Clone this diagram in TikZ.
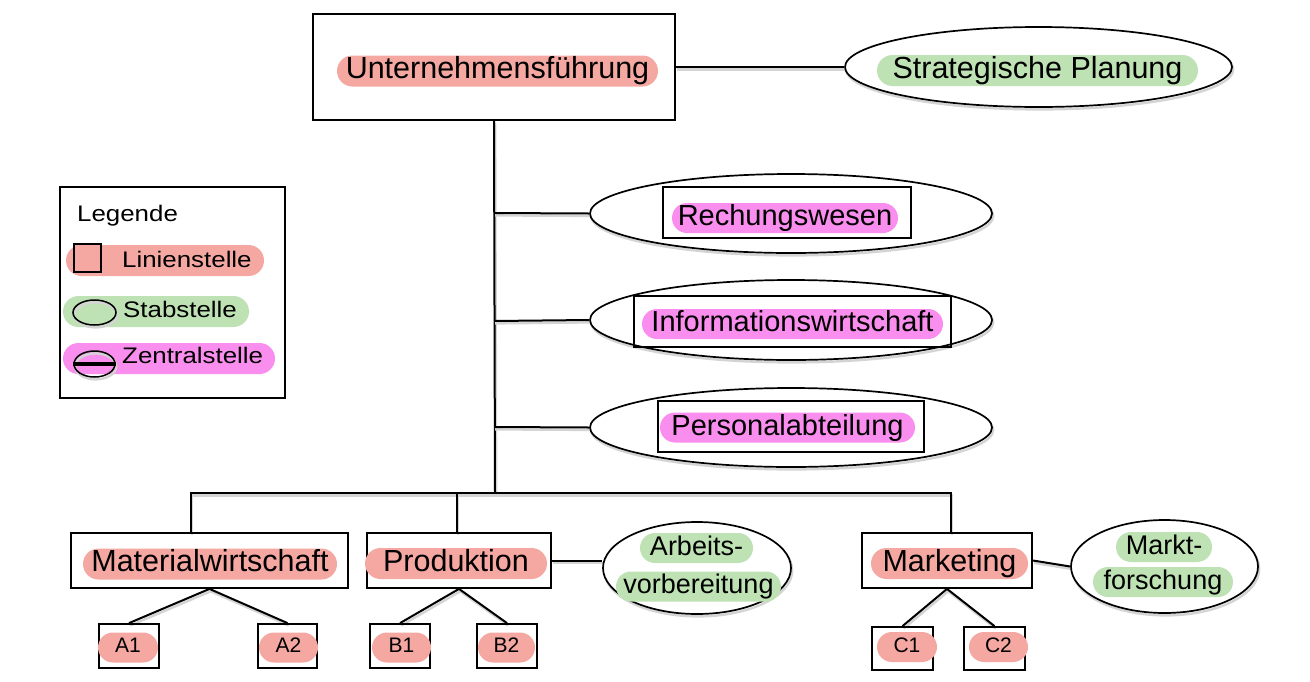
\documentclass[tikz,border=0pt]{standalone}
\usepackage{fontspec}
\setmainfont{Liberation Sans}
\newfontfamily\legfont[FakeStretch=1.15]{Liberation Sans}
\usetikzlibrary{shapes.geometric}
\pgfdeclarelayer{back}
\pgfdeclarelayer{bg}
\pgfsetlayers{back,bg,main}
\definecolor{linred}{RGB}{245,168,162}
\definecolor{stabgreen}{RGB}{190,226,180}
\definecolor{zentmag}{RGB}{250,142,238}
\newcommand{\myfs}[1]{\fontsize{#1}{#1}\selectfont}
\begin{document}
\begin{tikzpicture}[x=1pt,y=-1pt,
  shadowed/.style={preaction={draw=black!17, line width=2.4pt, transform canvas={shift={(1.2pt,-2.4pt)}}}},
  conn/.style={line width=2pt, shadowed},
  box/.style={draw, line width=1.8pt, inner sep=0pt},
  ell/.style={ellipse, draw, line width=1.7pt, inner sep=0pt, fill=white, shadowed},
  pill/.style={inner sep=0pt, rounded corners=15pt, minimum height=30pt},
  pillA/.style={pill, font=\myfs{30.5}, text height=22pt, text depth=6.5pt, minimum height=31pt, rounded corners=15.5pt},
  pillB/.style={pill, font=\myfs{29}, text height=21pt, text depth=6pt},
  pillC/.style={pill, font=\myfs{27}, text height=19.5pt, text depth=5.5pt},
  pillD/.style={pill, font=\myfs{21}, text height=15pt, text depth=4.5pt},
  legpill/.style={inner sep=0pt, rounded corners=15.5pt, minimum height=31pt},
  legtext/.style={anchor=base west, inner sep=0pt, font=\legfont\myfs{22.5}}
]
\begin{pgfonlayer}{back}
\fill[white] (0,0) rectangle (1310,681);
\end{pgfonlayer}
\useasboundingbox (0,0) rectangle (1310,681);

% top level
\node[box, minimum width=362pt, minimum height=106pt] (uf) at (494,67) {};
\node[pillA, fill=linred, minimum width=321pt] (ufl) at (497.5,71) {Unternehmensführung};
\node[ell, minimum width=387pt, minimum height=80pt] (sp) at (1038.5,67) {};
\node[pillA, fill=stabgreen, minimum width=321pt] (spl) at (1037.5,70.5) {Strategische Planung};

% central staff units
\node[ell, minimum width=402pt, minimum height=79pt] (rw) at (791,213.5) {};
\node[box, minimum width=248pt, minimum height=51pt] (rwr) at (787,212.5) {};
\node[pillB, fill=zentmag, minimum width=226pt] (rwl) at (785,218) {Rechungswesen};

\node[ell, minimum width=402pt, minimum height=80pt] (iw) at (791,320) {};
\node[box, minimum width=317pt, minimum height=51pt] (iwr) at (792.5,321.5) {};
\node[pillB, fill=zentmag, minimum width=301pt] (iwl) at (792.5,324) {Informationswirtschaft};

\node[ell, minimum width=402pt, minimum height=79pt] (pa) at (791,427.5) {};
\node[box, minimum width=266pt, minimum height=51pt] (par) at (791,426.5) {};
\node[pillB, fill=zentmag, minimum width=255pt] (pal) at (787.5,427.5) {Personalabteilung};

% second level
\node[box, minimum width=277pt, minimum height=55pt] (mw) at (209.5,560.5) {};
\node[pillA, fill=linred, minimum width=254pt] (mwl) at (210,564) {Materialwirtschaft};
\node[box, minimum width=184pt, minimum height=55pt] (pr) at (459,560.5) {};
\node[pillA, fill=linred, minimum width=182pt] (prl) at (456,563.5) {Produktion};
\node[box, minimum width=170pt, minimum height=55pt] (mk) at (947,560.5) {};
\node[pillA, fill=linred, minimum width=157pt] (mkl) at (949.5,563.5) {Marketing};

\node[ell, minimum width=188pt, minimum height=92pt] (ab) at (697,568) {};
\node[pillC, fill=stabgreen, minimum width=113pt] (ab1) at (696.5,548) {Arbeits-};
\node[pillC, fill=stabgreen, minimum width=165pt] (ab2) at (698.5,586.5) {vorbereitung};
\node[ell, minimum width=187pt, minimum height=93pt] (mf) at (1164.5,566.5) {};
\node[pillC, fill=stabgreen, minimum width=96pt] (mf1) at (1164,547) {Markt-};
\node[pillC, fill=stabgreen, minimum width=140pt] (mf2) at (1163,582) {forschung};

% third level
\node[box, minimum width=60pt, minimum height=44pt] (a1) at (129,646) {};
\node[pillD, fill=linred, minimum width=60pt] (a1l) at (128,647.5) {A1};
\node[box, minimum width=59pt, minimum height=44pt] (a2) at (287.5,646) {};
\node[pillD, fill=linred, minimum width=59pt] (a2l) at (288.5,647.5) {A2};
\node[box, minimum width=60pt, minimum height=44pt] (b1) at (400,646) {};
\node[pillD, fill=linred, minimum width=59pt] (b1l) at (401.5,647.5) {B1};
\node[box, minimum width=60pt, minimum height=44pt] (b2) at (507,646) {};
\node[pillD, fill=linred, minimum width=57pt] (b2l) at (506.5,647.5) {B2};
\node[box, minimum width=61pt, minimum height=43pt] (c1) at (902.5,648.5) {};
\node[pillD, fill=linred, minimum width=60pt] (c1l) at (907,647) {C1};
\node[box, minimum width=61pt, minimum height=43pt] (c2) at (994.5,648.5) {};
\node[pillD, fill=linred, minimum width=59pt] (c2l) at (998.5,647) {C2};

% coordinates on trunk and bus
\coordinate (j1) at (494,213);
\coordinate (j2) at (494,321);
\coordinate (j3) at (494,427);
\coordinate (bj) at (495,493);
\coordinate (bm) at (191,493);
\coordinate (bp) at (457,493);
\coordinate (bk) at (951,493);

\begin{pgfonlayer}{bg}
\draw[conn] (uf.east) -- (sp.west);
\draw[conn] (uf.south) -- (bj);
\draw[conn] (j1) -- (rw.west);
\draw[conn] (j2) -- (iw.west);
\draw[conn] (j3) -- (pa.west);
\draw[conn] (bm |- mw.north) -- (bm) -- (bk) -- (bk |- mk.north);
\draw[conn] (bp) -- (bp |- pr.north);
\draw[conn] (pr.east) -- (pr.east -| ab.west);
\draw[conn] (mk.east) -- (mf.west);
\draw[conn] (mw.south) -- (a1.north);
\draw[conn] (mw.south) -- (a2.north);
\draw[conn] (pr.south) -- (b1.north);
\draw[conn] (pr.south) -- (b2.north);
\draw[conn] (mk.south) -- (c1.north);
\draw[conn] (mk.south) -- (c2.north);
\end{pgfonlayer}

% legend
\node[box, minimum width=225pt, minimum height=211pt] (lg) at (172.5,292.5) {};
\node[legtext] (lgt) at (77,221) {Legende};
\node[legpill, fill=linred, minimum width=198pt] (lp1) at (165,260.5) {};
\node[box, fill=linred, minimum width=27pt, minimum height=28pt] (lsq) at (87.5,258) {};
\node[legtext] (lt1) at (122,267) {Linienstelle};
\node[legpill, fill=stabgreen, minimum width=186pt] (lp2) at (156,311.5) {};
\node[ellipse, draw, line width=1.5pt, inner sep=0pt, minimum width=43pt, minimum height=25pt, shadowed] (lse) at (94.5,312.5) {};
\node[legtext] (lt2) at (123,317) {Stabstelle};
\node[legpill, fill=zentmag, minimum width=212pt] (lp3) at (169,358.5) {};
\node[ellipse, draw, line width=1.5pt, inner sep=0pt, minimum width=41pt, minimum height=26pt, shadowed] (lze) at (94.5,364) {};
\draw[line width=3.2pt] (lze.west) -- (lze.east);
\node[legtext] (lt3) at (122,363.5) {Zentralstelle};
\end{tikzpicture}
\end{document}
